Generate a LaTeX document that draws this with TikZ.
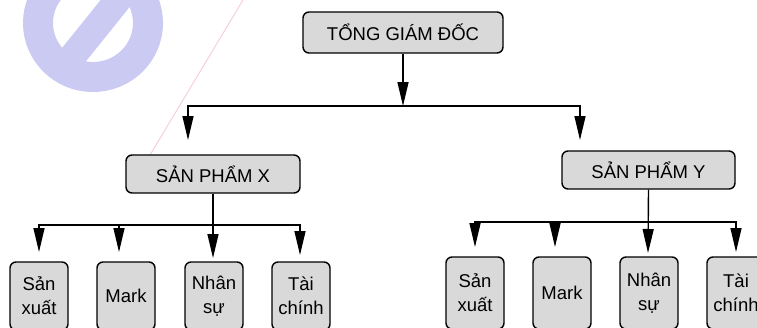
\documentclass[tikz,border=0pt]{standalone}
\usepackage{fontspec}
\setmainfont{Liberation Sans}
\usetikzlibrary{arrows.meta}
\definecolor{boxgray}{RGB}{217,217,217}
\definecolor{wmblue}{RGB}{202,202,243}
\definecolor{wmred}{RGB}{246,205,210}
\begin{document}
\begin{tikzpicture}[x=1pt,y=-1pt,
  box/.style={draw=black, line width=1.4pt, rounded corners=6pt, fill=boxgray,
    inner sep=0pt, align=center, font=\fontsize{18.5}{24}\selectfont},
  subbox/.style={box, minimum width=58pt},
  conn/.style={line width=1.4pt, line cap=rect},
  arr/.style={line width=1.4pt, -{Triangle[length=24pt,width=11pt]}}]
\useasboundingbox (0,0) rectangle (757,327);
\clip (0,0) rectangle (757,327);
% watermark
\draw[wmblue, line width=30pt] (93,23) ellipse [x radius=55, y radius=54];
\begin{scope}
  \clip (93,23) ellipse [x radius=55, y radius=54];
  \draw[wmblue, line width=27pt] (60,72) -- (126,-10);
\end{scope}
\draw[wmred, line width=0.9pt] (243,0) -- (150,155);
% main boxes
\node[box, minimum width=200pt, minimum height=41pt] (ceo) at (403,32.5) {TỔNG GIÁM ĐỐC};
\node[box, minimum width=174pt, minimum height=38pt] (px) at (213,174) {SẢN PHẨM X};
\node[box, minimum width=173pt, minimum height=38pt] (py) at (648.5,170) {SẢN PHẨM Y};
% sub boxes X
\node[subbox, minimum height=68pt] (x1) at (39,296) {Sản\\xuất};
\node[subbox, minimum height=68pt] (x2) at (126,296) {Mark};
\node[subbox, minimum height=68pt] (x3) at (214,296) {Nhân\\sự};
\node[subbox, minimum height=68pt] (x4) at (301,296) {Tài\\chính};
% sub boxes Y
\node[subbox, minimum height=72pt] (y1) at (475,293) {Sản\\xuất};
\node[subbox, minimum height=72pt] (y2) at (562,293) {Mark};
\node[subbox, minimum height=72pt] (y3) at (649,293) {Nhân\\sự};
\node[subbox, minimum height=72pt] (y4) at (736,293) {Tài\\chính};
% coordinates
\coordinate (b0) at (403,106);
\coordinate (b0l) at (188,106);
\coordinate (b0r) at (580,106);
\coordinate (tpx) at (188,140);
\coordinate (tpy) at (580,140);
\coordinate (bx1) at (39,225);
\coordinate (bx2) at (119,225);
\coordinate (bx4) at (300,225);
\coordinate (tx1) at (39,252);
\coordinate (tx2) at (119,252);
\coordinate (tx3) at (213,258);
\coordinate (tx4) at (300,255);
\coordinate (by1) at (475,222);
\coordinate (by2) at (555,222);
\coordinate (by4) at (736,222);
\coordinate (ty1) at (475,247);
\coordinate (ty2) at (555,247);
\coordinate (ty3) at (648,253);
\coordinate (ty4) at (736,252);
% connectors top
\draw[arr] (ceo.south) -- (b0);
\draw[conn] (b0l) -- (b0r);
\draw[arr] (b0l) -- (tpx);
\draw[arr] (b0r) -- (tpy);
% connectors X
\draw[conn] (bx1) -- (bx4);
\draw[arr] (px.south) -- (tx3);
\draw[arr] (bx1) -- (tx1);
\draw[arr] (bx2) -- (tx2);
\draw[arr] (bx4) -- (tx4);
% connectors Y
\draw[conn] (by1) -- (by4);
\draw[arr] (py.south) -- (ty3);
\draw[arr] (by1) -- (ty1);
\draw[arr] (by2) -- (ty2);
\draw[arr] (by4) -- (ty4);
\end{tikzpicture}
\end{document}
